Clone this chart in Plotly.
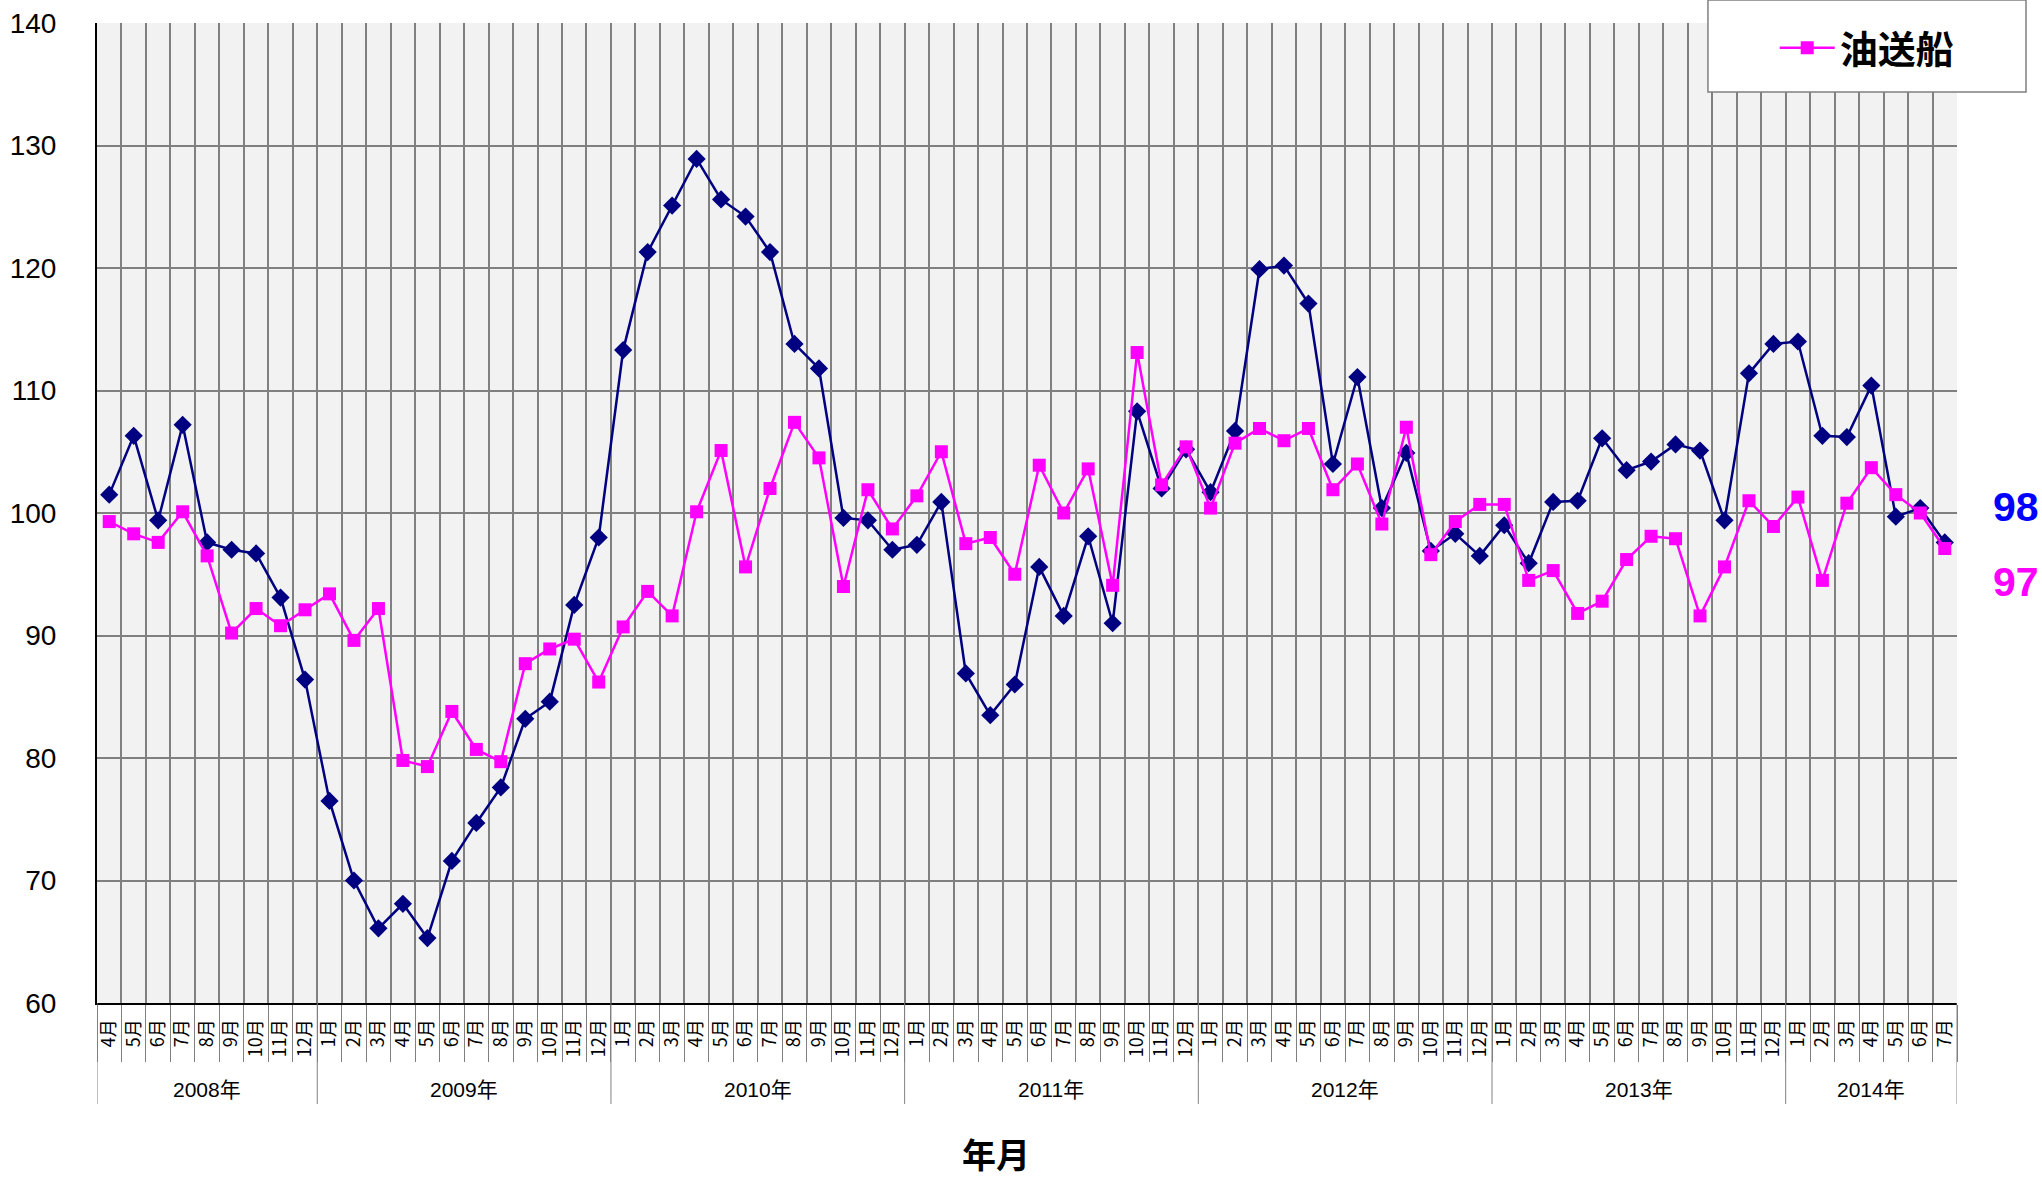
import plotly.graph_objects as go

# ---- data ----
year_labels = ["2008年", "2009年", "2010年", "2011年", "2012年", "2013年", "2014年"]
year_months = [
    [4, 5, 6, 7, 8, 9, 10, 11, 12],
    list(range(1, 13)),
    list(range(1, 13)),
    list(range(1, 13)),
    list(range(1, 13)),
    list(range(1, 13)),
    [1, 2, 3, 4, 5, 6, 7],
]

total_index = [101.5, 106.3, 99.4, 107.2, 97.6, 97.0, 96.7, 93.1, 86.4,
               76.5, 70.0, 66.1, 68.1, 65.3, 71.6, 74.7, 77.6, 83.2, 84.6, 92.5, 98.0,
               113.3, 121.3, 125.1, 128.9, 125.6, 124.2, 121.3, 113.8, 111.8, 99.6, 99.4, 97.0,
               97.4, 100.9, 86.9, 83.5, 86.0, 95.6, 91.6, 98.1, 91.0, 108.3, 102.0, 105.2,
               101.7, 106.7, 119.9, 120.2, 117.1, 104.0, 111.1, 100.4, 104.9, 96.9, 98.3, 96.5,
               99.0, 95.9, 100.9, 101.0, 106.1, 103.5, 104.2, 105.6, 105.1, 99.4, 111.4, 113.8,
               114.0, 106.3, 106.2, 110.4, 99.7, 100.4, 97.6]

tanker_index = [99.3, 98.3, 97.6, 100.1, 96.5, 90.2, 92.2, 90.8, 92.1,
                93.4, 89.6, 92.2, 79.8, 79.3, 83.8, 80.7, 79.7, 87.7, 88.9, 89.7, 86.2,
                90.7, 93.6, 91.6, 100.1, 105.1, 95.6, 102.0, 107.4, 104.5, 94.0, 101.9, 98.7,
                101.4, 105.0, 97.5, 98.0, 95.0, 103.9, 100.0, 103.6, 94.1, 113.1, 102.3, 105.4,
                100.4, 105.7, 106.9, 105.9, 106.9, 101.9, 104.0, 99.1, 107.0, 96.6, 99.3, 100.7,
                100.7, 94.5, 95.3, 91.8, 92.8, 96.2, 98.1, 97.9, 91.6, 95.6, 101.0, 98.9,
                101.3, 94.5, 100.8, 103.7, 101.5, 100.0, 97.1]

tanker_name = "油送船"
axis_title = "年月"

# ---- derived categories ----
cats, month_text = [], []
for y, ms in zip(year_labels, year_months):
    for m in ms:
        cats.append(f"{y}{m}月")
        month_text.append(f"{m}月")

NAVY = "#000080"
PINK = "#FF00FF"
GRID = "#808080"
SANS = "Liberation Sans, Arial, sans-serif"
SANS_CJK = "Liberation Sans, Noto Sans CJK JP, sans-serif"

fig = go.Figure()
fig.add_trace(go.Scatter(
    x=cats, y=total_index, mode="lines+markers", name="総合", showlegend=False,
    line=dict(color=NAVY, width=2.5),
    marker=dict(symbol="diamond", size=14, color=NAVY),
))
fig.add_trace(go.Scatter(
    x=cats, y=tanker_index, mode="lines+markers", name=tanker_name,
    line=dict(color=PINK, width=2.5),
    marker=dict(symbol="square", size=13, color=PINK),
))

# year dividers and year labels
shapes = []
annotations = []
start = 0
bounds = [-0.5]
for y, ms in zip(year_labels, year_months):
    n = len(ms)
    center = start + (n - 1) / 2
    annotations.append(dict(x=center, y=-0.0878, xref="x", yref="paper", text=y,
                            showarrow=False, xanchor="center", yanchor="middle",
                            font=dict(family=SANS_CJK, size=21, color="black")))
    start += n
    bounds.append(start - 0.5)
for b in bounds:
    shapes.append(dict(type="line", xref="x", yref="paper", x0=b, x1=b, y0=0, y1=-0.103,
                       line=dict(color=GRID, width=1)))

# legend box
shapes.append(dict(type="rect", xref="paper", yref="paper", x0=0.8661, x1=1.0371,
                   y0=0.9296, y1=1.0235, fillcolor="white", line=dict(color=GRID, width=1.5),
                   layer="above"))

# axis title
annotations.append(dict(x=0.4833, y=-0.1531, xref="paper", yref="paper", text=axis_title,
                        showarrow=False, xanchor="center", yanchor="middle",
                        font=dict(family="Noto Sans CJK JP", size=34, color="black", weight="bold")))
# latest values at right
annotations.append(dict(x=1.0317, y=0.5061, xref="paper", yref="paper",
                        text=f"{round(total_index[-1])}", showarrow=False,
                        xanchor="center", yanchor="middle",
                        font=dict(family=SANS, size=41, color="#0000FF", weight="bold")))
annotations.append(dict(x=1.0317, y=0.4296, xref="paper", yref="paper",
                        text=f"{round(tanker_index[-1])}", showarrow=False,
                        xanchor="center", yanchor="middle",
                        font=dict(family=SANS, size=41, color=PINK, weight="bold")))

fig.update_layout(
    width=2042, height=1180,
    margin=dict(l=97, r=85, t=23, b=177, autoexpand=False),
    paper_bgcolor="white", plot_bgcolor="#F2F2F2",
    shapes=shapes, annotations=annotations,
    legend=dict(x=0.902, y=0.9745, xanchor="left", yanchor="middle",
                bgcolor="rgba(0,0,0,0)", itemwidth=55,
                font=dict(family="Noto Sans CJK JP", size=38, color="black", weight="bold")),
    xaxis=dict(type="category", tickson="boundaries", ticks="outside", ticklen=57,
               tickcolor=GRID, tickwidth=1, tickmode="array", tickvals=cats, ticktext=month_text,
               tickangle=-90, ticklabelstandoff=7, automargin=False,
               tickfont=dict(family="Noto Sans CJK JP", size=18, color="black"),
               showgrid=True, gridcolor=GRID, gridwidth=1.5,
               showline=True, linecolor="black", linewidth=2, range=[-0.5, len(cats) - 0.5]),
    yaxis=dict(range=[60, 140], tick0=60, dtick=10, ticks="", ticklabelstandoff=33,
               automargin=False,
               tickfont=dict(family=SANS, size=28, color="black"),
               showgrid=True, gridcolor=GRID, gridwidth=1.5,
               showline=True, linecolor="black", linewidth=2, zeroline=False),
)

fig.write_html(
    "out.html",
    config={"displayModeBar": False},
    post_script="document.body.style.margin='0';document.body.style.overflow='hidden';",
)
